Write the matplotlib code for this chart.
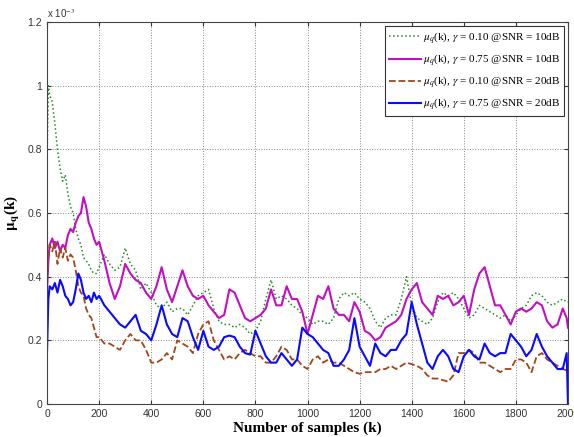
import numpy as np
import matplotlib
matplotlib.use("Agg")
import matplotlib.pyplot as plt

# sample index grid
k = [0, 5] + list(range(10, 201, 10)) + list(range(220, 1981, 20)) + [1995, 2000]

# values in units of 1e-3
mu_g010_10 = [0.78, 1.00, 0.97, 0.95, 0.88, 0.80, 0.74, 0.70, 0.72, 0.66, 0.62, 0.60,
              0.55, 0.52, 0.50, 0.46, 0.45, 0.44, 0.42, 0.41, 0.41, 0.43,
              0.47, 0.44, 0.42, 0.43, 0.49, 0.44, 0.42, 0.36, 0.38, 0.35,
              0.31, 0.30, 0.32, 0.29, 0.30, 0.30, 0.28, 0.31, 0.34, 0.35,
              0.36, 0.30, 0.26, 0.25, 0.25, 0.24, 0.25, 0.24, 0.22, 0.23,
              0.26, 0.33, 0.39, 0.33, 0.34, 0.33, 0.31, 0.30, 0.28, 0.27,
              0.25, 0.26, 0.26, 0.25, 0.27, 0.33, 0.35, 0.34, 0.35, 0.33,
              0.32, 0.30, 0.26, 0.24, 0.27, 0.28, 0.28, 0.33, 0.40, 0.31,
              0.27, 0.26, 0.25, 0.27, 0.32, 0.35, 0.34, 0.35, 0.33, 0.30,
              0.27, 0.28, 0.31, 0.30, 0.29, 0.28, 0.27, 0.28, 0.26, 0.28,
              0.30, 0.31, 0.34, 0.35, 0.34, 0.32, 0.31, 0.32, 0.33, 0.32, 0.32]

mu_g075_10 = [0.36, 0.45, 0.50, 0.52, 0.49, 0.51, 0.48, 0.50, 0.49, 0.53, 0.55, 0.54,
              0.57, 0.59, 0.60, 0.65, 0.62, 0.57, 0.55, 0.52, 0.50, 0.51,
              0.45, 0.38, 0.33, 0.37, 0.44, 0.41, 0.39, 0.38, 0.35, 0.33,
              0.37, 0.43, 0.36, 0.32, 0.37, 0.42, 0.37, 0.34, 0.33, 0.34,
              0.31, 0.29, 0.27, 0.28, 0.36, 0.35, 0.31, 0.27, 0.26, 0.27,
              0.28, 0.30, 0.36, 0.31, 0.31, 0.37, 0.33, 0.33, 0.29, 0.22,
              0.28, 0.34, 0.33, 0.37, 0.30, 0.28, 0.28, 0.26, 0.32, 0.29,
              0.23, 0.22, 0.20, 0.21, 0.24, 0.25, 0.26, 0.28, 0.33, 0.36,
              0.38, 0.32, 0.30, 0.28, 0.34, 0.33, 0.34, 0.31, 0.32, 0.34,
              0.28, 0.36, 0.41, 0.43, 0.37, 0.31, 0.31, 0.28, 0.25, 0.29,
              0.30, 0.29, 0.30, 0.32, 0.31, 0.26, 0.24, 0.25, 0.30, 0.27, 0.24]

mu_g010_20 = [0.40, 0.47, 0.50, 0.48, 0.51, 0.44, 0.49, 0.46, 0.49, 0.45, 0.47, 0.46,
              0.42, 0.37, 0.35, 0.34, 0.30, 0.28, 0.27, 0.24, 0.21, 0.21,
              0.19, 0.19, 0.18, 0.17, 0.20, 0.22, 0.20, 0.20, 0.17, 0.13,
              0.13, 0.14, 0.16, 0.14, 0.20, 0.19, 0.18, 0.16, 0.22, 0.25,
              0.26, 0.20, 0.17, 0.14, 0.15, 0.14, 0.16, 0.17, 0.16, 0.15,
              0.15, 0.13, 0.13, 0.15, 0.18, 0.17, 0.14, 0.14, 0.12, 0.11,
              0.14, 0.15, 0.13, 0.14, 0.13, 0.13, 0.12, 0.11, 0.10, 0.095,
              0.10, 0.10, 0.10, 0.11, 0.11, 0.12, 0.11, 0.12, 0.13, 0.125,
              0.12, 0.11, 0.09, 0.08, 0.08, 0.075, 0.07, 0.09, 0.16, 0.16,
              0.17, 0.16, 0.13, 0.13, 0.12, 0.11, 0.10, 0.11, 0.11, 0.14,
              0.14, 0.13, 0.10, 0.15, 0.16, 0.14, 0.13, 0.12, 0.11, 0.105, 0.10]

mu_g075_20 = [0.17, 0.33, 0.37, 0.36, 0.38, 0.35, 0.39, 0.37, 0.34, 0.33, 0.31, 0.32,
              0.36, 0.41, 0.39, 0.35, 0.33, 0.34, 0.32, 0.35, 0.33, 0.34,
              0.31, 0.29, 0.27, 0.25, 0.24, 0.26, 0.28, 0.23, 0.22, 0.20,
              0.25, 0.31, 0.25, 0.22, 0.21, 0.27, 0.26, 0.21, 0.17, 0.23,
              0.18, 0.17, 0.18, 0.21, 0.215, 0.21, 0.18, 0.16, 0.155, 0.23,
              0.19, 0.15, 0.13, 0.13, 0.16, 0.14, 0.12, 0.14, 0.24, 0.22,
              0.21, 0.19, 0.17, 0.16, 0.12, 0.12, 0.14, 0.17, 0.27, 0.18,
              0.15, 0.12, 0.19, 0.16, 0.15, 0.17, 0.17, 0.20, 0.22, 0.32,
              0.25, 0.19, 0.13, 0.11, 0.15, 0.17, 0.15, 0.11, 0.10, 0.15,
              0.17, 0.15, 0.14, 0.19, 0.16, 0.15, 0.16, 0.16, 0.22, 0.20,
              0.18, 0.15, 0.17, 0.22, 0.18, 0.15, 0.13, 0.11, 0.11, 0.16, 0.0]

labels = [r'$\mu_q$(k), $\gamma$ = 0.10 @SNR = 10dB',
          r'$\mu_q$(k), $\gamma$ = 0.75 @SNR = 10dB',
          r'$\mu_q$(k), $\gamma$ = 0.10 @SNR = 20dB',
          r'$\mu_q$(k), $\gamma$ = 0.75 @SNR = 20dB']
xticks = list(range(0, 2001, 200))
yticks = [0, 0.2, 0.4, 0.6, 0.8, 1.0, 1.2]
yticklabels = ['0', '0.2', '0.4', '0.6', '0.8', '1', '1.2']

plt.rcParams['font.family'] = ['Liberation Sans', 'DejaVu Sans']
plt.rcParams['mathtext.fontset'] = 'stix'

fig = plt.figure(figsize=(5.74, 4.37), dpi=100)
ax = fig.add_axes([0.082, 0.0755, 0.9075, 0.874])

ax.plot(k, mu_g010_10, linestyle=':', color='#1f8a1f', lw=1.1, label=labels[0])
ax.plot(k, mu_g075_10, linestyle='-', color='#c010c0', lw=1.5, label=labels[1])
ax.plot(k, mu_g010_20, linestyle='--', color='#a0461a', lw=1.3, label=labels[2])
ax.plot(k, mu_g075_20, linestyle='-', color='#0a0aff', lw=1.5, label=labels[3])

ax.set_xlim(0, 2000)
ax.set_ylim(0, 1.2)
ax.set_xticks(xticks)
ax.set_yticks(yticks)
ax.set_yticklabels(yticklabels)
ax.tick_params(direction='in', top=True, right=True, labelsize=7.5, length=3, colors='#333333')
ax.grid(True, linestyle=':', color='#888888', lw=0.7)
for s in ax.spines.values():
    s.set_color('#444444')

ax.set_xlabel('Number of samples (k)', fontsize=11, fontweight='bold',
              family='Liberation Serif', labelpad=2)
ax.set_ylabel(r'$\mathbf{\mu_q}$(k)', fontsize=11, fontweight='bold',
              family='Liberation Serif', labelpad=4)
ax.text(0.0, 1.005, r'x 10$^{-3}$', transform=ax.transAxes, fontsize=7,
        color='#333333', ha='left', va='bottom')

leg = ax.legend(loc='upper right', handlelength=2.9,
                prop={'family': 'Liberation Serif', 'size': 8},
                fancybox=False, framealpha=1, edgecolor='#333333',
                borderaxespad=0.35, labelspacing=0.55, handletextpad=0.2,
                borderpad=0.35)
leg.get_frame().set_linewidth(0.8)

fig.savefig('out.png', dpi=100)
